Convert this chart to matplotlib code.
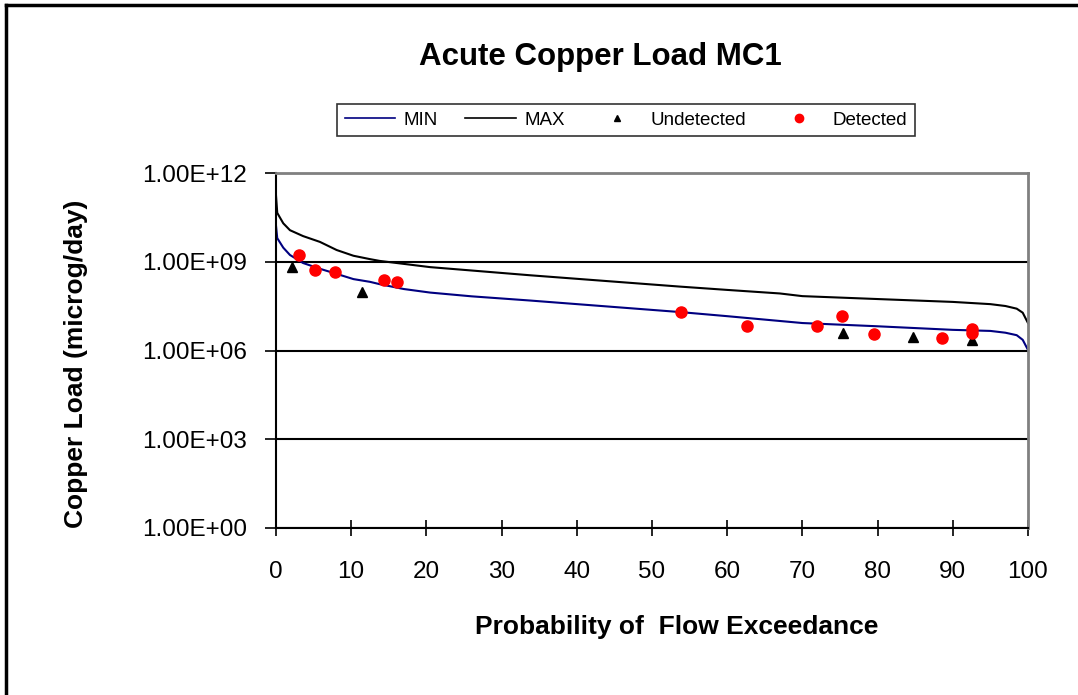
import matplotlib
matplotlib.use('Agg')
import matplotlib.pyplot as plt
from matplotlib.lines import Line2D
from matplotlib.legend_handler import HandlerLine2D

plt.rcParams['font.family'] = ['Liberation Sans', 'DejaVu Sans']

# curve data (x = % exceedance, y = load)
min_x = [0, 0.17, 0.97, 1.86, 3.6, 5.85, 8.07, 10.3, 12.5, 13.8, 17, 20.5,
         26, 33.8, 53.7, 60, 70, 80, 90, 95, 97, 98.5, 99.3, 100]
min_y = [1.7e10, 6.3e9, 3.0e9, 1.7e9, 9.1e8, 5.8e8, 3.9e8, 2.6e8, 2.1e8,
         1.75e8, 1.2e8, 9.1e7, 6.8e7, 4.9e7, 2.0e7, 1.45e7, 8.5e6, 6.6e6,
         5.0e6, 4.6e6, 4.0e6, 3.3e6, 2.3e6, 1.05e6]
max_x = [0, 0.17, 0.97, 1.86, 3.6, 5.85, 8.07, 10.3, 12.5, 13.8, 20.5,
         33.8, 53.7, 60, 67, 70, 80, 90, 95, 97, 98.5, 99.3, 100]
max_y = [1.8e11, 4.5e10, 2.0e10, 1.17e10, 7.4e9, 4.7e9, 2.5e9, 1.6e9,
         1.23e9, 1.07e9, 6.6e8, 3.5e8, 1.45e8, 1.12e8, 8.5e7, 6.9e7, 5.5e7,
         4.4e7, 3.7e7, 3.2e7, 2.6e7, 1.9e7, 8.5e6]

det_x = [3.1, 5.2, 7.9, 14.3, 16.1, 53.8, 62.6, 71.9, 75.3, 79.5, 88.6,
         92.6, 92.6]
det_y = [1.7e9, 5.2e8, 4.6e8, 2.4e8, 2.1e8, 2.0e7, 6.8e6, 6.8e6, 1.5e7,
         3.6e6, 2.6e6, 5.4e6, 3.9e6]
und_x = [2.1, 11.4, 75.4, 84.7, 92.6]
und_y = [6.6e8, 9.5e7, 4.0e6, 2.9e6, 2.3e6]


class MarkerRight(HandlerLine2D):
    # excel puts the legend marker near the text
    def get_xdata(self, legend, xdescent, ydescent, width, height, fontsize):
        xdata, _ = super().get_xdata(legend, xdescent, ydescent, width,
                                     height, fontsize)
        return xdata, [-xdescent + 0.8 * width]


fig = plt.figure(figsize=(10.78, 6.95), dpi=100)
ax = fig.add_axes([0.256, 0.2403, 0.6976, 0.5107])

ax.plot(min_x, min_y, color='#000080', lw=1.5, label='MIN')
ax.plot(max_x, max_y, color='black', lw=1.5, label='MAX')
ax.plot(und_x, und_y, '^', color='black', ms=7, ls='none',
        label='Undetected', zorder=4)
ax.plot(det_x, det_y, 'o', color='#ff0000', ms=8, ls='none',
        label='Detected', zorder=5)

ax.set_yscale('log')
ax.set_ylim(1, 1e12)
ax.set_xlim(0, 100)
ax.set_yticks([1, 1e3, 1e6, 1e9, 1e12])
ax.set_yticklabels(['1.00E+00', '1.00E+03', '1.00E+06', '1.00E+09',
                    '1.00E+12'])
ax.minorticks_off()
ax.set_xticks(range(0, 101, 10))
ax.grid(axis='y', color='black', lw=1.5)
ax.tick_params(axis='y', labelsize=17.5, direction='out', length=8,
               width=1.2, color='black', pad=13)
ax.tick_params(axis='x', labelsize=17.5, direction='inout', length=12,
               width=1.2, color='black', pad=18)
ax.spines['left'].set_linewidth(1.5)
ax.spines['bottom'].set_linewidth(1.5)
ax.spines['top'].set_color('#808080')
ax.spines['right'].set_color('#808080')
ax.spines['top'].set_linewidth(2)
ax.spines['right'].set_linewidth(2)

ax.set_xlabel('Probability of  Flow Exceedance', fontsize=19,
              fontweight='bold')
ax.xaxis.set_label_coords(0.533, -0.245)
ax.set_ylabel('Copper Load (microg/day)', fontsize=19, fontweight='bold')
ax.yaxis.set_label_coords(-0.25, 0.462)

fig.text(0.5566, 0.918, 'Acute Copper Load MC1', ha='center', va='center',
         fontsize=22.5, fontweight='bold')

handles = [Line2D([], [], color='#000080', lw=1.2),
           Line2D([], [], color='black', lw=1.2),
           Line2D([], [], marker='^', color='black', ls='none', ms=5),
           Line2D([], [], marker='o', color='#ff0000', ls='none', ms=6)]
leg = fig.legend(handles, ['MIN', 'MAX', 'Undetected', 'Detected'],
                 loc='center', bbox_to_anchor=(0.5807, 0.827), ncol=4,
                 fontsize=13.5, frameon=True, fancybox=False,
                 edgecolor='black', handlelength=2.7, columnspacing=1.45,
                 borderpad=0.4, handletextpad=0.45, borderaxespad=0,
                 handler_map={handles[2]: MarkerRight(numpoints=1),
                              handles[3]: MarkerRight(numpoints=1)})
leg.get_frame().set_linewidth(1.2)

# outer chart frame
fig.add_artist(Line2D([6 / 1078, 6 / 1078], [0, 1 - 5 / 695],
                      transform=fig.transFigure, color='black', lw=2.5))
fig.add_artist(Line2D([6 / 1078, 1], [1 - 5 / 695, 1 - 5 / 695],
                      transform=fig.transFigure, color='black', lw=2.5))

fig.savefig('out.png', dpi=100)
